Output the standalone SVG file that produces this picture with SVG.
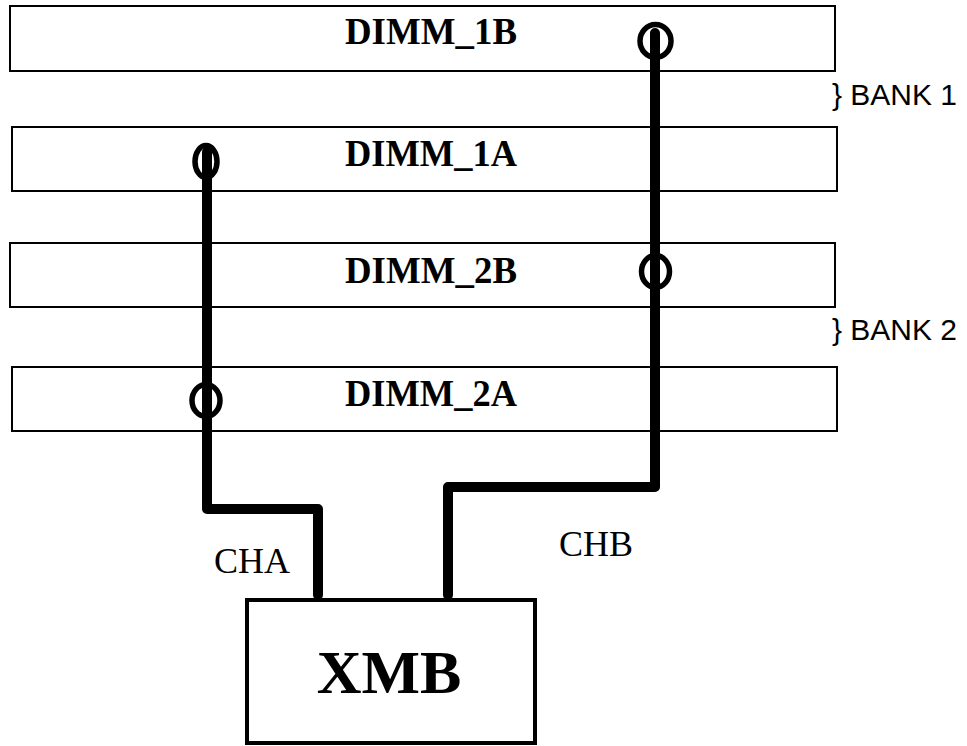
<svg xmlns="http://www.w3.org/2000/svg" width="967" height="746" viewBox="0 0 967 746">
<style>
.dimm{fill:#fff;stroke:#000;stroke-width:2}
.lbl{font-family:"Liberation Serif","Times New Roman",serif;font-weight:bold;font-size:38px;text-anchor:middle;fill:#000}
.ch{font-family:"Liberation Serif","Times New Roman",serif;font-size:36px;text-anchor:middle;fill:#000}
.bank{font-family:"Liberation Sans",Arial,sans-serif;font-size:29px;fill:#000}
.wire{fill:none;stroke:#000;stroke-width:10;stroke-linecap:round;stroke-linejoin:round}
.ring{fill:none;stroke:#000;stroke-width:5.5}
</style>
<rect width="967" height="746" fill="#fff"/>
<g id="dimm_1b"><rect class="dimm" x="10" y="6" width="825" height="65"/><text class="lbl" x="431" y="44" textLength="172" lengthAdjust="spacingAndGlyphs">DIMM_1B</text></g>
<g id="dimm_1a"><rect class="dimm" x="12" y="127" width="825" height="64"/><text class="lbl" x="431" y="166" textLength="172" lengthAdjust="spacingAndGlyphs">DIMM_1A</text></g>
<g id="dimm_2b"><rect class="dimm" x="10" y="243" width="825" height="64"/><text class="lbl" x="431" y="283" textLength="172" lengthAdjust="spacingAndGlyphs">DIMM_2B</text></g>
<g id="dimm_2a"><rect class="dimm" x="12" y="367" width="825" height="64"/><text class="lbl" x="431" y="406" textLength="172" lengthAdjust="spacingAndGlyphs">DIMM_2A</text></g>
<g id="bank1"><text class="bank" x="832" y="105" textLength="125" lengthAdjust="spacingAndGlyphs">} BANK 1</text></g>
<g id="bank2"><text class="bank" x="832" y="340" textLength="125" lengthAdjust="spacingAndGlyphs">} BANK 2</text></g>
<g id="xmb"><rect x="247" y="600" width="288" height="143" fill="#fff" stroke="#000" stroke-width="4"/><text class="lbl" style="font-size:62px" x="389" y="693">XMB</text></g>
<g id="connectors">
<path class="wire" d="M207 152 V509 H318 V595"/>
<path class="wire" d="M448 595 V487 H655 V33"/>
<ellipse class="ring" cx="655.5" cy="41" rx="15.5" ry="16.5"/>
<ellipse class="ring" cx="206" cy="161.5" rx="11" ry="16"/>
<ellipse class="ring" cx="655.5" cy="271.5" rx="14" ry="16"/>
<ellipse class="ring" cx="206" cy="400.5" rx="14" ry="16"/>
<text class="ch" x="252" y="573">CHA</text>
<text class="ch" x="596" y="556">CHB</text>
</g>
</svg>
